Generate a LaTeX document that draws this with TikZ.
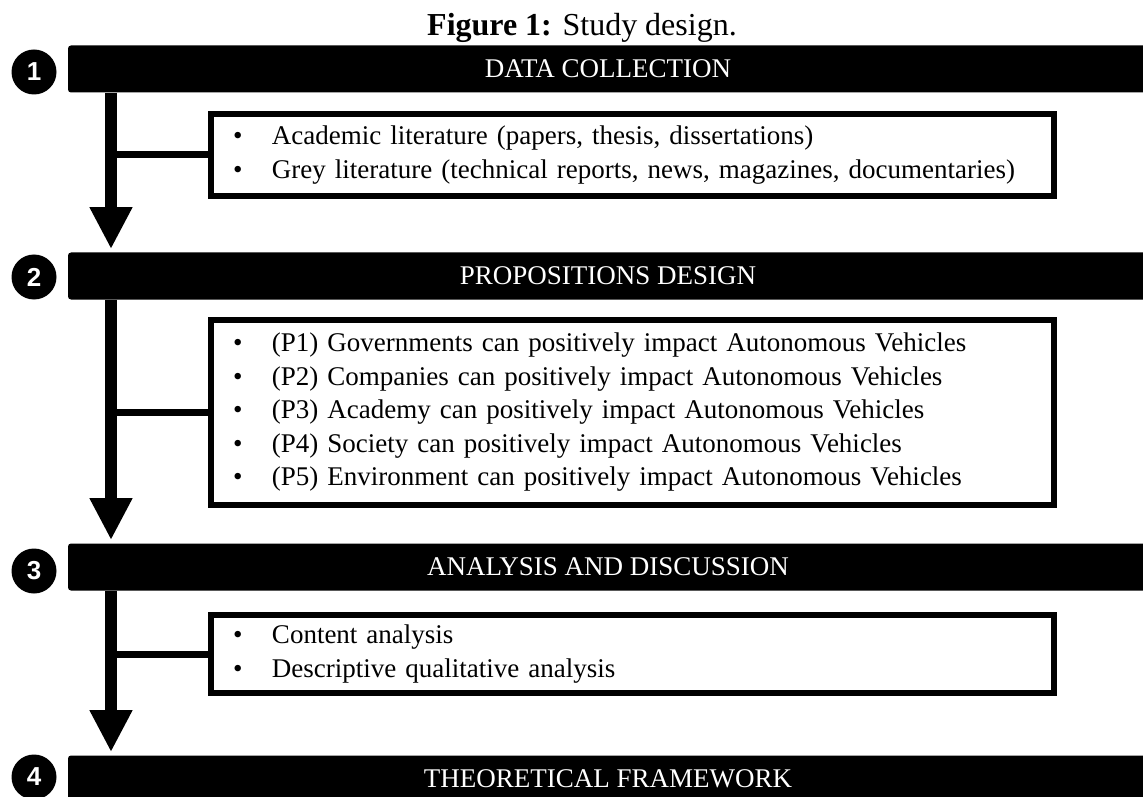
\documentclass[tikz,border=0pt]{standalone}
\usepackage{fontspec}
\setmainfont{Liberation Serif}
\newfontfamily\numfont{Liberation Sans}
\usepackage{tikz}
\usetikzlibrary{positioning, arrows.meta, calc}
\newcommand{\bul}{\makebox[19.5pt][l]{\textbullet}}

\begin{document}
\begin{tikzpicture}[x=0.5pt, y=-0.5pt,
    stagebar/.style={fill=black, rounded corners=1.5pt, text=white, inner sep=0pt,
                     minimum width=540pt, minimum height=23.5pt,
                     font=\fontsize{13.5}{16}\selectfont},
    stagenum/.style={circle, fill=black, text=white, inner sep=0pt, minimum size=22.5pt,
                     font=\numfont\bfseries\fontsize{13}{13}\selectfont},
    itembox/.style={draw=black, line width=3pt, text width=399.5pt, inner xsep=11pt,
                    inner ysep=0pt, align=left, font=\fontsize{13.5}{16.75}\selectfont},
    flow/.style={line width=6pt, -{Triangle[width=20pt, length=21pt]}, shorten >=1.5pt},
    branch/.style={line width=3.5pt}]
    \useasboundingbox (0,0) rectangle (1143,796);
    \clip (0,0) rectangle (1143,796);

    % caption
    \node[anchor=base, font=\fontsize{16}{19}\selectfont] (title)
        at (582,36) {\textbf{Figure 1:} Study design.};

    % stage bars and numbers
    \node[stagebar] (bar1) at (608,69)  {DATA COLLECTION};
    \node[stagebar] (bar2) at (608,276) {PROPOSITIONS DESIGN};
    \node[stagebar] (bar3) at (608,567) {ANALYSIS AND DISCUSSION};
    \node[stagebar] (bar4) at (608,779) {THEORETICAL FRAMEWORK};
    \node[stagenum] (num1) at (34,72)  {1};
    \node[stagenum] (num2) at (34,277) {2};
    \node[stagenum] (num3) at (34,571) {3};
    \node[stagenum] (num4) at (34,777) {4};

    % item boxes
    \node[itembox, minimum height=41pt] (box1) at (632.5,155) {%
        \bul Academic literature (papers, thesis, dissertations)\\
        \bul Grey literature (technical reports, news, magazines, documentaries)};
    \node[itembox, minimum height=92.5pt] (box2) at (632.5,412.5) {%
        \bul (P1) Governments can positively impact Autonomous Vehicles\\
        \bul (P2) Companies can positively impact Autonomous Vehicles\\
        \bul (P3) Academy can positively impact Autonomous Vehicles\\
        \bul (P4) Society can positively impact Autonomous Vehicles\\
        \bul (P5) Environment can positively impact Autonomous Vehicles};
    \node[itembox, minimum height=39pt] (box3) at (632.5,654) {%
        \bul Content analysis\\
        \bul Descriptive qualitative analysis};

    % spine arrows and branches
    \coordinate (spine) at (111,0);
    \draw[flow] (bar1.south -| spine) -- (bar2.north -| spine);
    \draw[flow] (bar2.south -| spine) -- (bar3.north -| spine);
    \draw[flow] (bar3.south -| spine) -- (bar4.north -| spine);
    \draw[branch] (box1.west) -- (box1.west -| spine);
    \draw[branch] (box2.west) -- (box2.west -| spine);
    \draw[branch] (box3.west) -- (box3.west -| spine);
\end{tikzpicture}
\end{document}
